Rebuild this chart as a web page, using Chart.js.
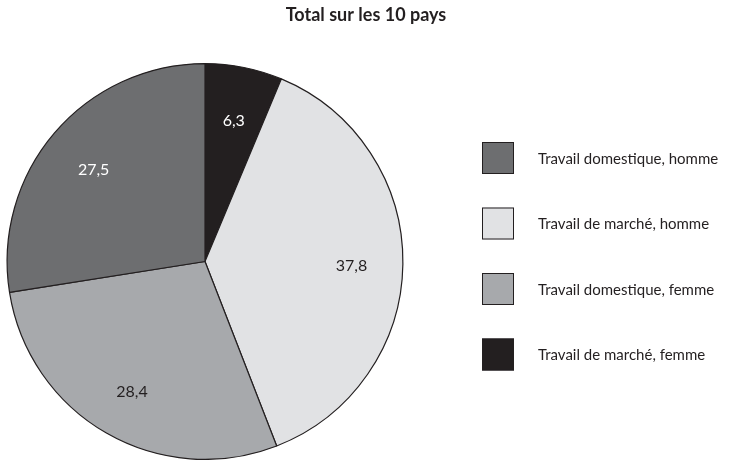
<!DOCTYPE html>
<html lang="fr">
<head>
<meta charset="utf-8">
<title>Total sur les 10 pays</title>
<script src="https://cdn.jsdelivr.net/npm/chart.js@4"></script>
<style>
  html,body{margin:0;padding:0;background:#fff;}
  #wrap{position:relative;width:731px;height:460px;}
</style>
</head>
<body>
<div id="wrap"><canvas id="pie" width="731" height="460"></canvas></div>
<script>
  // slices, clockwise from 12 o'clock
  const labels = ['Travail de marché, femme','Travail de marché, homme','Travail domestique, femme','Travail domestique, homme'];
  const values = [6.3, 37.8, 28.4, 27.5];
  const colors = ['#231f20','#e1e2e4','#a7a9ac','#6d6e70'];
  const valueColors = ['#ffffff','#231f20','#231f20','#ffffff'];
  // legend shows them in this order
  const legendOrder = [3, 1, 2, 0];
  const title = 'Total sur les 10 pays';

  const FONT = 'Lato, "Open Sans", sans-serif';
  const fr = (n)=> String(n.toFixed(1)).replace('.', ',');

  // value labels inside slices
  const sliceLabels = {
    id:'sliceLabels',
    afterDatasetsDraw(chart){
      const ctx = chart.ctx;
      const meta = chart.getDatasetMeta(0);
      ctx.save();
      ctx.font = '16px ' + FONT;
      ctx.textAlign = 'center';
      ctx.textBaseline = 'middle';
      meta.data.forEach((arc,i)=>{
        const p = arc.getProps(['x','y','startAngle','endAngle','outerRadius'], true);
        const mid = (p.startAngle + p.endAngle) / 2;
        const r = p.outerRadius * 0.74;
        ctx.fillStyle = valueColors[i];
        ctx.fillText(fr(values[i]), p.x + Math.cos(mid)*r, p.y + Math.sin(mid)*r + 3);
      });
      ctx.restore();
    }
  };

  // title + square legend on the right
  const sideLegend = {
    id:'sideLegend',
    afterDraw(chart){
      const ctx = chart.ctx;
      ctx.save();
      ctx.fillStyle = '#231f20';
      ctx.font = 'bold 18px ' + FONT;
      ctx.textAlign = 'center';
      ctx.textBaseline = 'middle';
      ctx.fillText(title, 366, 15);

      ctx.font = '15px ' + FONT;
      ctx.textAlign = 'left';
      legendOrder.forEach((idx,row)=>{
        const y = 142 + row*65.5;
        ctx.fillStyle = colors[idx];
        ctx.fillRect(482, y, 32, 32);
        ctx.strokeStyle = '#231f20';
        ctx.lineWidth = 1;
        ctx.strokeRect(482.5, y + 0.5, 31, 31);
        ctx.fillStyle = '#231f20';
        ctx.fillText(labels[idx], 538, y + 17);
      });
      ctx.restore();
    }
  };

  new Chart(document.getElementById('pie'), {
    type:'pie',
    data:{
      labels,
      datasets:[{
        data: values,
        backgroundColor: colors,
        borderColor: '#231f20',
        borderWidth: 1.2
      }]
    },
    options:{
      responsive:false,
      animation:false,
      layout:{ padding:{ left:6, right:327, top:63, bottom:0 } },
      plugins:{ legend:{ display:false }, tooltip:{ enabled:false }, title:{ display:false } }
    },
    plugins:[sliceLabels, sideLegend]
  });
</script>
</body>
</html>
